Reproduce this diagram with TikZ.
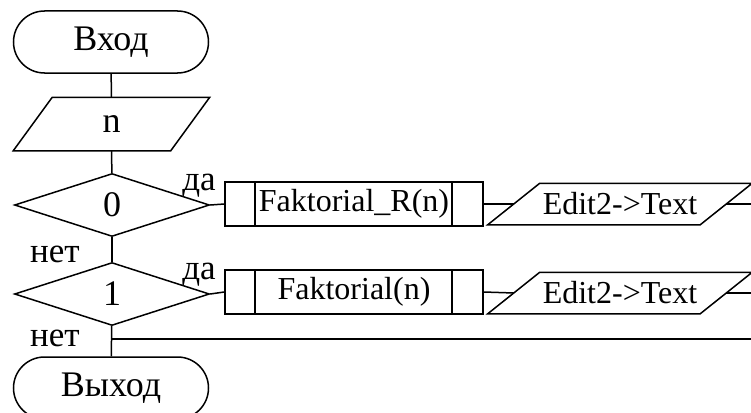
\documentclass[tikz,border=0pt]{standalone}
\usepackage{fontspec}
\setmainfont{Liberation Serif}
\usetikzlibrary{shapes.geometric,shapes.misc}

\begin{document}
\begin{tikzpicture}[x=1pt,y=-1pt,line width=1.5pt,
    txt/.style={font=\fontsize{32}{32}\selectfont},
    big/.style={font=\fontsize{36}{36}\selectfont},
    term/.style={big,draw,rounded rectangle,minimum width=195pt,minimum height=62pt,inner sep=0pt},
    io/.style={txt,rectangle,inner sep=0pt},
    cond/.style={big,draw,diamond,minimum width=195pt,minimum height=63pt,inner sep=0pt},
    proc/.style={txt,draw,rectangle,minimum width=258pt,minimum height=44pt,inner sep=0pt,
      path picture={
        \draw ([xshift=30pt]path picture bounding box.north west) -- ([xshift=30pt]path picture bounding box.south west);
        \draw ([xshift=-31pt]path picture bounding box.north east) -- ([xshift=-31pt]path picture bounding box.south east);
      }},
    lbl/.style={font=\fontsize{35}{35}\selectfont,inner sep=0pt,anchor=base}]
        \useasboundingbox (0,0) rectangle (751,412);
        \clip (0,0) rectangle (751,412);

        % blocks of the scheme
        \node[term] (start) at (111,42) {Вход};
        \node[io,big,minimum width=195pt,minimum height=52pt] (getn) at (111.5,124) {n};
        \node[cond] (isnull) at (112,205) {0};
        \node[cond] (isone) at (112,294) {1};
        \node[term] (stop) at (111,388) {Выход};

        \node[proc] (recfact) at (354,204) {Faktorial\_R(n)};
        \node[proc] (fact) at (354,292) {Faktorial(n)};
        \node[io,minimum width=263pt,minimum height=40pt] (shownull) at (620,204) {Edit2->Text};
        \node[io,minimum width=263pt,minimum height=40pt] (showone) at (620,293) {Edit2->Text};

        % slanted outlines of input/output blocks
        \foreach \b/\s in {getn/39,shownull/52,showone/52}
          \draw ([xshift=\s pt]\b.north west) -- (\b.north east) -- ([xshift=-\s pt]\b.south east) -- (\b.south west) -- cycle;

        % free ends at the right border
        \coordinate (endnull) at (760,204);
        \coordinate (endone) at (760,293);
        \coordinate (merge) at (112,339);
        \coordinate (mergeend) at (760,339);

        % flow lines
        \draw (start) -- (getn);
        \draw (getn) -- (isnull);
        \draw (isnull) -- (isone);
        \draw (isone) -- (stop);
        \draw (isnull.east) -- (recfact.west);
        \draw (isone.east) -- (fact.west);
        \draw (recfact.east) -- ([xshift=26pt]shownull.west);
        \draw (fact.east) -- ([xshift=26pt]showone.west);
        \draw ([xshift=-26pt]shownull.east) -- (endnull);
        \draw ([xshift=-26pt]showone.east) -- (endone);
        \draw (merge) -- (mergeend);

        % branch labels
        \node[lbl] (yesnull) at (199,190) {да};
        \node[lbl] (nonull) at (55,262) {нет};
        \node[lbl] (yesone) at (199,279) {да};
        \node[lbl] (noone) at (55,346) {нет};
\end{tikzpicture}
\end{document}
